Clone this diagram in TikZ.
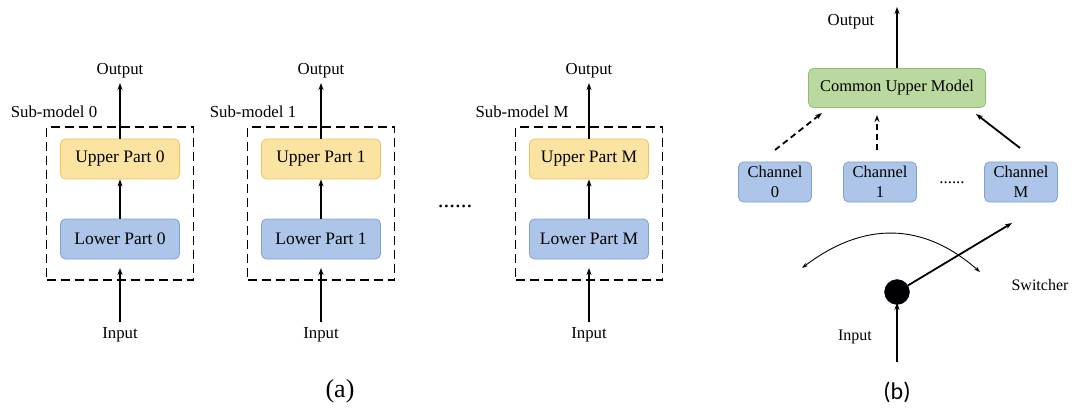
\documentclass[tikz,border=0pt]{standalone}
\usepackage{fontspec}
\setmainfont{Liberation Serif}
\newfontfamily\capbfont{Carlito}
\usetikzlibrary{arrows.meta}
\definecolor{upfill}{HTML}{FBE3A2}
\definecolor{updraw}{HTML}{EFC460}
\definecolor{lowfill}{HTML}{ACC5E9}
\definecolor{lowdraw}{HTML}{7FA2D4}
\definecolor{grfill}{HTML}{BAD99E}
\definecolor{grdraw}{HTML}{8EBE6B}
\tikzset{
  upperbox/.style={draw=updraw, fill=upfill, rounded corners=5pt, line width=0.8pt, minimum width=119pt, minimum height=40pt, inner sep=0pt, font=\fontsize{17.5}{20}\selectfont},
  lowerbox/.style={draw=lowdraw, fill=lowfill, rounded corners=5pt, line width=0.8pt, minimum width=119pt, minimum height=40pt, inner sep=0pt, font=\fontsize{17.5}{20}\selectfont},
  chanbox/.style={draw=lowdraw, fill=lowfill, rounded corners=5pt, line width=0.8pt, minimum width=73pt, minimum height=40pt, inner sep=0pt, align=center, font=\fontsize{16.5}{20}\selectfont},
  greenbox/.style={draw=grdraw, fill=grfill, rounded corners=5pt, line width=0.8pt, minimum width=177pt, minimum height=39pt, inner sep=0pt, font=\fontsize{16.5}{20}\selectfont},
  subbox/.style={draw, dash pattern=on 9pt off 5pt, line width=1.8pt, minimum width=147pt, minimum height=153pt, inner sep=0pt},
  lbl/.style={font=\fontsize{16.8}{20}\selectfont, inner sep=0pt},
  arr/.style={-{Stealth[length=7pt,width=5pt]}, line width=1.8pt},
  thinarr/.style={{Stealth[length=6pt,width=4pt]}-{Stealth[length=6pt,width=4pt]}, line width=0.9pt},
}
\begin{document}
\begin{tikzpicture}[x=1pt,y=-1pt]
\useasboundingbox (0,0) rectangle (1074,409);
% ---------- (a) ----------
\foreach \i/\cx/\t/\lx in {0/120/0/54, 1/321/1/253, 2/589/M/522}{
  \node[subbox] (box\i) at (\cx,203.5) {};
  \node[upperbox] (up\i) at (\cx,159) {Upper Part \t};
  \node[lowerbox] (low\i) at (\cx,239) {Lower Part \t};
  \node[lbl] (out\i) at (\cx,71) {Output};
  \node[lbl] (in\i) at (\cx,335) {Input};
  \node[lbl] (sub\i) at (\lx,112) {Sub-model \t};
  \coordinate (otip\i) at (\cx,83);
  \coordinate (ibase\i) at (\cx,322);
  \coordinate (itip\i) at (\cx,268);
  \draw[arr] (up\i.north) -- (otip\i);
  \draw[arr] (low\i.north) -- (up\i.south);
  \draw[arr] (ibase\i) -- (itip\i);
}
\node[lbl, font=\fontsize{23}{26}\selectfont] (dotsa) at (455,206) {......};
\node[font=\fontsize{26}{30}\selectfont, inner sep=0pt] (capa) at (340,391) {(a)};
% ---------- (b) ----------
\node[greenbox] (cum) at (897,88) {Common Upper Model};
\coordinate (cout) at (897,7);
\draw[arr] (cum.north) -- (cout);
\node[lbl] (outb) at (851,22) {Output};
\node[chanbox] (ch0) at (775,182) {Channel\\0};
\node[chanbox] (ch1) at (880,182) {Channel\\1};
\node[chanbox] (chM) at (1021,182) {Channel\\M};
\node[lbl] (dotsb) at (952,183) {......};
\coordinate (c0s) at (775,150);
\coordinate (c0e) at (822,113);
\coordinate (c1s) at (877,150);
\coordinate (c1e) at (877,115);
\coordinate (cMs) at (1020,148);
\coordinate (cMe) at (976,114);
\draw[arr, dash pattern=on 6pt off 4pt] (c0s) -- (c0e);
\draw[arr, dash pattern=on 6pt off 4pt] (c1s) -- (c1e);
\draw[arr] (cMs) -- (cMe);
\node[circle, fill=black, draw=black!80!blue, minimum size=25pt, inner sep=0pt] (sw) at (897,292) {};
\coordinate (swtip) at (1012,223);
\draw[arr] (sw) -- (swtip);
\coordinate (arcL) at (802,268);
\coordinate (arcR) at (980,272);
\draw[thinarr] (arcL) .. controls (864,221) and (923,222) .. (arcR);
\node[lbl, font=\fontsize{16}{20}\selectfont] (swl) at (1040,285) {Switcher};
\node[lbl, font=\fontsize{16}{20}\selectfont] (inb) at (855,337) {Input};
\coordinate (inbase) at (897,362);
\draw[arr] (inbase) -- ([yshift=2pt]sw.south);
\node[font=\capbfont\fontsize{24}{28}\selectfont, inner sep=0pt] (capb) at (897,392) {(b)};
\end{tikzpicture}
\end{document}
